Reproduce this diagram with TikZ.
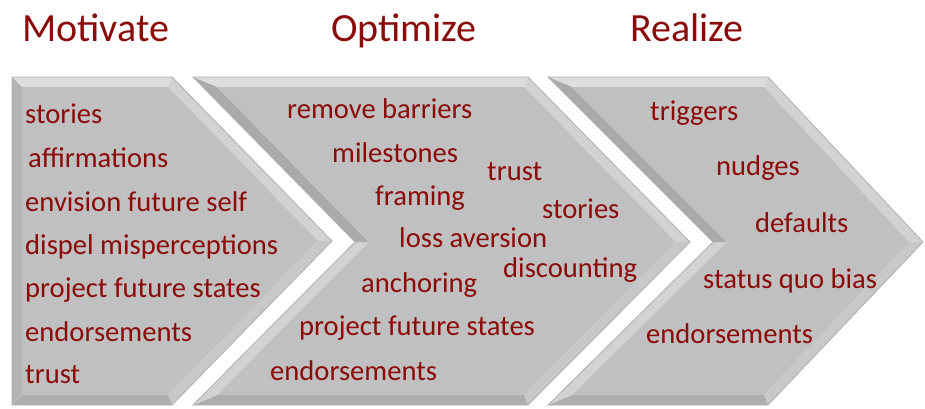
\documentclass[tikz,border=0pt]{standalone}
\usepackage{fontspec}
\setmainfont{Carlito}
\definecolor{txt}{RGB}{139,10,10}
\definecolor{body}{RGB}{192,192,192}
\definecolor{ftop}{RGB}{222,222,222}
\definecolor{fup}{RGB}{210,210,210}
\definecolor{fdown}{RGB}{200,200,200}
\definecolor{fbot}{RGB}{174,174,174}
\definecolor{fleft}{RGB}{180,180,180}
\definecolor{fnotch}{RGB}{170,170,170}
\definecolor{edge}{RGB}{175,175,175}
\begin{document}
\begin{tikzpicture}[x=1pt,y=-1pt,
 lbl/.style={anchor=base west,text=txt,font=\fontsize{28.6}{30}\selectfont,inner sep=0pt},
 ttl/.style={anchor=base west,text=txt,font=\fontsize{40}{42}\selectfont,inner sep=0pt},
 outl/.style={draw=edge,line width=0.8pt,line join=miter}]
\useasboundingbox (0,0) rectangle (925,408);
\fill[white] (0,0) rectangle (925,408);

% ---- chevron 1 (pentagon)
\fill[ftop] (12,77) -- (172,77) -- (168,87) -- (22,87) -- cycle;
\fill[fup] (172,77) -- (332,241) -- (318,241) -- (168,87) -- cycle;
\fill[fdown] (332,241) -- (172,405) -- (168,395) -- (318,241) -- cycle;
\fill[fbot] (172,405) -- (12,405) -- (22,395) -- (168,395) -- cycle;
\fill[fleft] (12,405) -- (12,77) -- (22,87) -- (22,395) -- cycle;
\fill[body] (22,87) -- (168,87) -- (318,241) -- (168,395) -- (22,395) -- cycle;
\draw[outl] (12,77) -- (172,77) -- (332,241) -- (172,405) -- (12,405) -- cycle;

% ---- chevron 2
\fill[ftop] (193,77) -- (528,77) -- (524,87) -- (217,87) -- cycle;
\fill[fup] (528,77) -- (690,242) -- (676,242) -- (524,87) -- cycle;
\fill[fdown] (690,242) -- (528,405) -- (524,395) -- (676,242) -- cycle;
\fill[fbot] (528,405) -- (193,405) -- (217,395) -- (524,395) -- cycle;
\fill[fup] (193,405) -- (355,242) -- (369,242) -- (217,395) -- cycle;
\fill[fnotch] (355,242) -- (193,77) -- (217,87) -- (369,242) -- cycle;
\fill[body] (217,87) -- (524,87) -- (676,242) -- (524,395) -- (217,395) -- (369,242) -- cycle;
\draw[outl] (193,77) -- (528,77) -- (690,242) -- (528,405) -- (193,405) -- (355,242) -- cycle;

% ---- chevron 3
\fill[ftop] (548,77) -- (768,77) -- (764,87) -- (572,87) -- cycle;
\fill[fup] (768,77) -- (923,242) -- (909,242) -- (764,87) -- cycle;
\fill[fdown] (923,242) -- (768,405) -- (764,395) -- (909,242) -- cycle;
\fill[fbot] (768,405) -- (548,405) -- (572,395) -- (764,395) -- cycle;
\fill[fup] (548,405) -- (713,242) -- (727,242) -- (572,395) -- cycle;
\fill[fnotch] (713,242) -- (548,77) -- (572,87) -- (727,242) -- cycle;
\fill[body] (572,87) -- (764,87) -- (909,242) -- (764,395) -- (572,395) -- (727,242) -- cycle;
\draw[outl] (548,77) -- (768,77) -- (923,242) -- (768,405) -- (548,405) -- (713,242) -- cycle;

% ---- titles
\node[ttl] (tmot) at (22,41) {Motivate};
\node[ttl] (topt) at (331,41) {Optimize};
\node[ttl] (treal) at (630,41) {Realize};

% ---- Motivate
\node[lbl] (m1) at (25,123) {stories};
\node[lbl] (m2) at (28,167) {affirmations};
\node[lbl] (m3) at (25,211) {envision future self};
\node[lbl] (m4) at (25,254) {dispel misperceptions};
\node[lbl] (m5) at (25,297) {project future states};
\node[lbl] (m6) at (25,341) {endorsements};
\node[lbl] (m7) at (25,383) {trust};

% ---- Optimize
\node[lbl] (o1) at (287,118) {remove barriers};
\node[lbl] (o2) at (332,162) {milestones};
\node[lbl] (o3) at (487,180) {trust};
\node[lbl] (o4) at (375,205) {framing};
\node[lbl] (o5) at (542,218) {stories};
\node[lbl] (o6) at (399,247) {loss aversion};
\node[lbl] (o7) at (503,277) {discounting};
\node[lbl] (o8) at (361,292) {anchoring};
\node[lbl] (o9) at (299,335) {project future states};
\node[lbl] (o10) at (270,380) {endorsements};

% ---- Realize
\node[lbl] (r1) at (650,120) {triggers};
\node[lbl] (r2) at (716,175) {nudges};
\node[lbl] (r3) at (755,232) {defaults};
\node[lbl] (r4) at (703,288) {status quo bias};
\node[lbl] (r5) at (646,343) {endorsements};
\end{tikzpicture}
\end{document}
